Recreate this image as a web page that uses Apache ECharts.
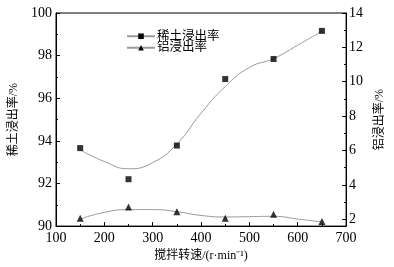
<!DOCTYPE html>
<html>
<head>
<meta charset="utf-8">
<script src="https://cdn.jsdelivr.net/npm/echarts@6/dist/echarts.min.js"></script>
<style>
html,body{margin:0;padding:0;background:#fff;}
#chart{width:394px;height:267px;}
</style>
</head>
<body>
<div id="chart"></div>
<script>
// Experimental points
var speeds = [150, 250, 350, 450, 550, 650];
var reValues = [93.66, 92.2, 93.78, 96.9, 97.84, 99.16];
var alValues = [2.06, 2.71, 2.44, 2.06, 2.29, 1.87];
// Fitted curves
var fitSpeeds = [150, 200, 250, 300, 350, 400, 450, 500, 550, 600, 650];
var reFit = [93.58, 93.03, 92.69, 92.98, 93.85, 95.3, 96.55, 97.45, 97.86, 98.49, 99.15];
var alFit = [2.01, 2.4, 2.56, 2.56, 2.44, 2.22, 2.13, 2.15, 2.17, 2.01, 1.84];
// Axis ticks
var rightTicks = [2, 4, 6, 8, 10, 12, 14];
var rightMinor = [3, 5, 7, 9, 11, 13];

function pairs(xs, ys){ return xs.map(function(x,i){ return [x, ys[i]]; }); }

var serif = '"Liberation Serif", "Noto Sans CJK SC", serif';
var chart = echarts.init(document.getElementById('chart'));
chart.setOption({
  animation: false,
  backgroundColor: '#fff',
  textStyle: {fontFamily: serif, color: '#000'},
  grid: {left: 54, right: 43, top: 13, bottom: 39, show: true, borderColor: '#000', borderWidth: 1, backgroundColor: 'transparent'},
  legend: {
    orient: 'vertical', left: 121, top: 25, itemGap: -1,
    itemWidth: 28, itemHeight: 7,
    data: ['稀土浸出率', '铝浸出率'],
    textStyle: {fontFamily: serif, fontSize: 12.5, color: '#000', padding: [0,0,0,-3]}
  },
  xAxis: {
    type: 'value', min: 100, max: 700, interval: 100,
    name: '搅拌转速/(r·min⁻¹)', nameLocation: 'middle', nameGap: 21,
    nameTextStyle: {fontFamily: serif, fontSize: 12, color: '#000'},
    axisLine: {lineStyle: {color: '#000', width: 1}},
    axisTick: {inside: true, length: 4, lineStyle: {color: '#000'}},
    minorTick: {show: true, splitNumber: 2, length: 2, lineStyle: {color: '#000'}},
    axisLabel: {fontFamily: serif, fontSize: 14, color: '#000', margin: 5},
    splitLine: {show: false}
  },
  yAxis: [{
    type: 'value', min: 90, max: 100, interval: 2, position: 'left',
    name: '稀土浸出率/%', nameLocation: 'middle', nameGap: 36, nameRotate: 90,
    nameTextStyle: {fontFamily: serif, fontSize: 12, color: '#000'},
    axisLine: {lineStyle: {color: '#000', width: 1}},
    axisTick: {inside: true, length: 4, lineStyle: {color: '#000'}},
    minorTick: {show: true, splitNumber: 2, length: 2, lineStyle: {color: '#000'}},
    axisLabel: {fontFamily: serif, fontSize: 14, color: '#000', margin: 4},
    splitLine: {show: false}
  }, {
    type: 'value', min: 1.6, max: 14, position: 'right',
    name: '铝浸出率/%', nameLocation: 'middle', nameGap: 21, nameRotate: 90,
    nameTextStyle: {fontFamily: serif, fontSize: 12, color: '#000'},
    axisLine: {show: true, lineStyle: {color: '#000', width: 1}},
    axisTick: {inside: true, length: 4, customValues: rightTicks, lineStyle: {color: '#000'}},
    axisLabel: {fontFamily: serif, fontSize: 14, color: '#000', margin: 3, customValues: rightTicks},
    splitLine: {show: false}
  }, {
    type: 'value', min: 1.6, max: 14, position: 'right',
    axisLine: {show: false},
    axisTick: {show: true, inside: true, length: 2, customValues: rightMinor, lineStyle: {color: '#000'}},
    axisLabel: {show: false},
    splitLine: {show: false}
  }],
  series: [{
    name: '稀土浸出率', type: 'line', smooth: 0.5, yAxisIndex: 0,
    data: pairs(fitSpeeds, reFit),
    symbol: 'rect', symbolSize: 6, showSymbol: false,
    itemStyle: {color: '#000'},
    lineStyle: {color: '#999', width: 1}, z: 2
  }, {
    name: '铝浸出率', type: 'line', smooth: 0.5, yAxisIndex: 1,
    data: pairs(fitSpeeds, alFit),
    symbol: 'triangle', symbolSize: 7, showSymbol: false,
    itemStyle: {color: '#000'},
    lineStyle: {color: '#999', width: 1}, z: 2
  }, {
    name: 'reExp', type: 'scatter', yAxisIndex: 0,
    data: pairs(speeds, reValues),
    symbol: 'rect', symbolSize: 6, itemStyle: {color: '#000'}, z: 3
  }, {
    name: 'alExp', type: 'scatter', yAxisIndex: 1,
    data: pairs(speeds, alValues),
    symbol: 'triangle', symbolSize: 7, itemStyle: {color: '#000'}, z: 3
  }]
});
</script>
</body>
</html>
